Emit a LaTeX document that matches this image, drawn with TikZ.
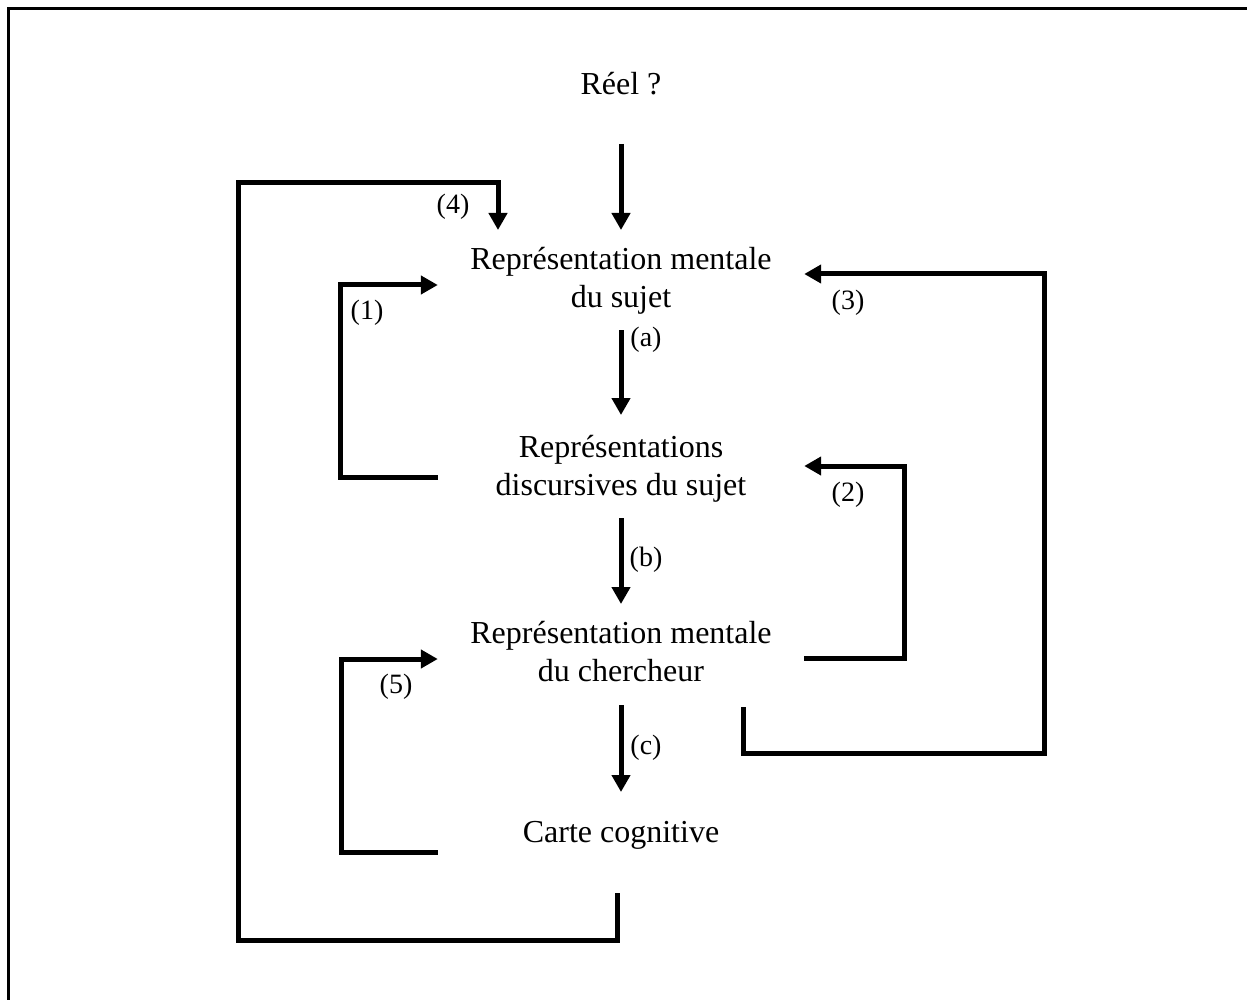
\documentclass[tikz,border=0pt]{standalone}
\usepackage{fontspec}
\setmainfont{Liberation Serif}
\usetikzlibrary{arrows.meta}
\tikzset{box/.style={align=center,minimum width=366pt,inner sep=0pt,font=\fontsize{32}{38}\selectfont}}
\tikzset{lbl/.style={inner sep=0pt,font=\fontsize{28}{32}\selectfont}}
\tikzset{flow/.style={line width=5pt,-{Triangle[length=17pt,width=18pt]}}}

\begin{document}
\begin{tikzpicture}[x=1pt,y=-1pt]
\useasboundingbox (0,0) rectangle (1247,1000);
\draw[line width=3pt] (8.5,1000) -- (8.5,9) -- (1247,9);

% the chain
\node[box] (reel) at (621,84) {Réel ?};
\node[box] (rms) at (621,281) {Représentation mentale\\du sujet};
\node[box] (rds) at (621,469) {Représentations\\discursives du sujet};
\node[box] (rmc) at (621,652) {Représentation mentale\\du chercheur};
\node[box] (carte) at (621,835) {Carte cognitive};

\draw[flow] ([yshift=-60pt]reel.center) -- ([yshift=51pt]rms.center);
\draw[flow] ([yshift=-49pt]rms.center) -- ([yshift=54pt]rds.center);
\draw[flow] ([yshift=-49pt]rds.center) -- ([yshift=48pt]rmc.center);
\draw[flow] ([yshift=-53pt]rmc.center) -- ([yshift=43pt]carte.center);

\node[lbl] (la) at (646,340) {(a)};
\node[lbl] (lb) at (646,560) {(b)};
\node[lbl] (lc) at (646,748) {(c)};

% the loops
\draw[flow] ([yshift=-8pt]rds.west) -- ++(-97,0) |- ([yshift=-4pt]rms.west);
\draw[flow] ([yshift=-6pt]rmc.east) -- ++(100,0) |- ([yshift=3pt]rds.east);
\draw[flow] ([xshift=122pt,yshift=-55pt]rmc.center) -- ++(0,46) -- ++(301,0) |- ([yshift=7pt]rms.east);
\draw[flow] ([xshift=-4pt,yshift=-58pt]carte.center) -- ++(0,47) -| ++(-379,-757) -| ([xshift=-123pt,yshift=51pt]rms.center);
\draw[flow] ([yshift=-17pt]carte.west) -- ++(-96,0) |- ([yshift=-7pt]rmc.west);

\node[lbl] (l1) at (367,313) {(1)};
\node[lbl] (l2) at (848,495) {(2)};
\node[lbl] (l3) at (848,303) {(3)};
\node[lbl] (l4) at (453,207) {(4)};
\node[lbl] (l5) at (396,687) {(5)};

\end{tikzpicture}
\end{document}
